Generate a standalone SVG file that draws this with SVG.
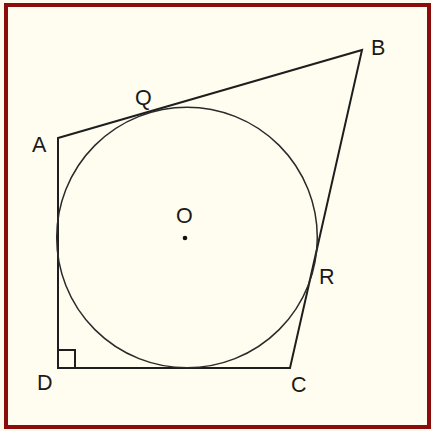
<svg xmlns="http://www.w3.org/2000/svg" width="432" height="431" viewBox="0 0 432 431">
<style>
.lbl{font-family:"Liberation Sans",Arial,sans-serif;font-size:21.5px;fill:#1a1a1a}
.edge{fill:none;stroke:#1e1e1e;stroke-width:2;stroke-linejoin:miter}
</style>
<rect x="0" y="0" width="432" height="431" fill="#fdfbee"/>
<rect x="6" y="5" width="423" height="422" fill="#fffdf0" stroke="#8a0c0c" stroke-width="4"/>
<g id="connectors">
<polygon class="edge" points="58,138 362,50 290,368 58,368"/>
<polyline class="edge" points="58,350 75,350 75,368" stroke-width="1.5"/>
</g>
<g id="circle"><circle cx="187" cy="237.5" r="130.3" fill="none" stroke="#2a2a2a" stroke-width="1.5"/></g>
<g id="O"><circle cx="185" cy="238" r="2.3" fill="#111"/><text class="lbl" x="176" y="223">O</text></g>
<g id="A"><text class="lbl" x="32" y="152">A</text></g>
<g id="B"><text class="lbl" x="371" y="55">B</text></g>
<g id="Q"><text class="lbl" x="135" y="105">Q</text></g>
<g id="R"><text class="lbl" x="319" y="284">R</text></g>
<g id="C"><text class="lbl" x="291" y="392">C</text></g>
<g id="D"><text class="lbl" x="37" y="390">D</text></g>
</svg>
